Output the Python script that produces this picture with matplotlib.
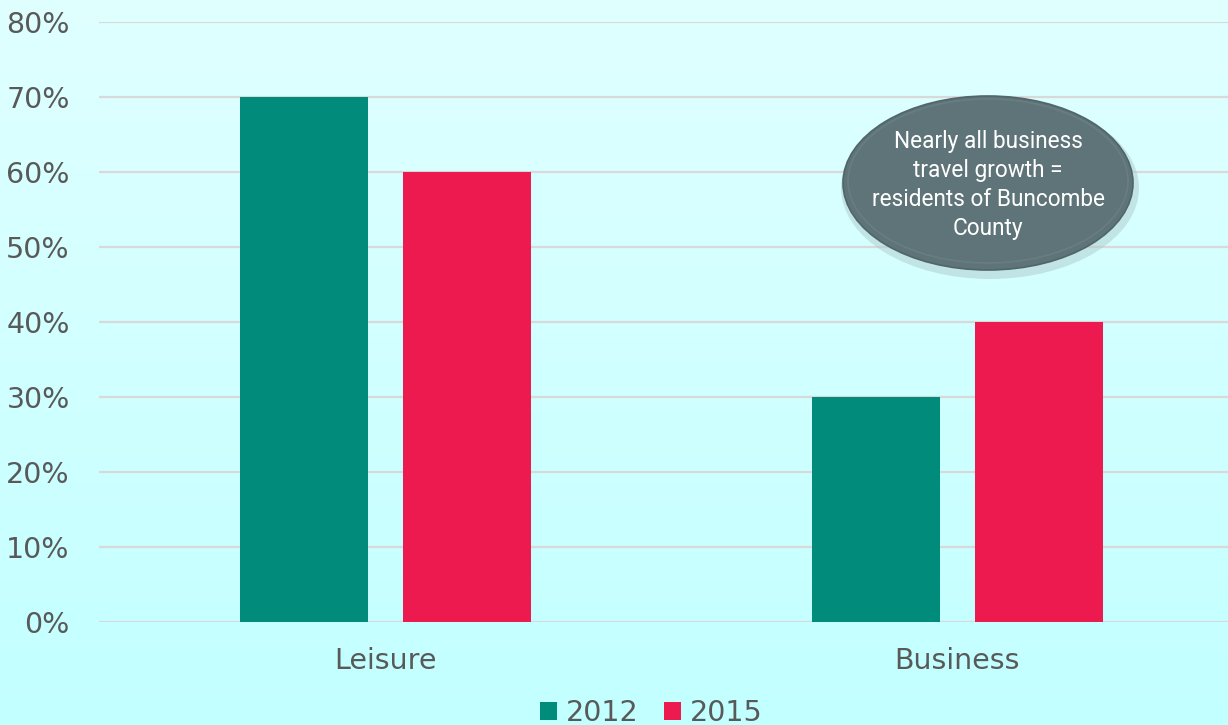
import matplotlib
matplotlib.use("Agg")
import matplotlib.pyplot as plt
import numpy as np
from matplotlib.patches import Ellipse
from matplotlib.colors import LinearSegmentedColormap

categories = ["Leisure", "Business"]
series_names = ["2012", "2015"]
values_2012 = [70, 30]
values_2015 = [60, 40]
yticks = [0, 10, 20, 30, 40, 50, 60, 70, 80]
ytick_labels = ["0%", "10%", "20%", "30%", "40%", "50%", "60%", "70%", "80%"]
note = "Nearly all business\ntravel growth =\nresidents of Buncombe\nCounty"

colors = ["#008B7A", "#ED1A4F"]
text_color = "#595959"
plt.rcParams["font.family"] = ["DejaVu Sans"]

W, H = 1228, 725
fig = plt.figure(figsize=(W / 100, H / 100), dpi=100)

# background gradient
bg = fig.add_axes([0, 0, 1, 1], zorder=-10)
grad = np.linspace(0, 1, 256).reshape(-1, 1)
cmap = LinearSegmentedColormap.from_list("bg", ["#E0FFFF", "#C2FFFF"])
bg.imshow(grad, aspect="auto", cmap=cmap, extent=[0, 1, 0, 1], origin="upper")
bg.axis("off")

# main axes: left 99px, right 1228px, y 0% at 622px, 80% at 22px
left, right = 99, 1228
top, bottom = 22, 622
ax = fig.add_axes([left / W, 1 - bottom / H, (right - left) / W, (bottom - top) / H])
ax.set_facecolor("none")

x = np.arange(len(categories))
bw = 0.224
off = 0.1425
ax.bar(x - off, values_2012, bw, color=colors[0], label=series_names[0], zorder=3)
ax.bar(x + off, values_2015, bw, color=colors[1], label=series_names[1], zorder=3)

ax.set_ylim(0, 80)
ax.set_xlim(-0.5 - 1 / 572, -0.5 + 1129 / 572)
ax.set_yticks(yticks)
ax.set_yticklabels(ytick_labels)
ax.set_xticks(x)
ax.set_xticklabels(categories)
ax.tick_params(axis="y", length=0, pad=21, labelsize=20.5, labelcolor=text_color)
ax.tick_params(axis="x", length=0, pad=18, labelsize=20.5, labelcolor=text_color)
for s in ax.spines.values():
    s.set_visible(False)
ax.yaxis.grid(True, color="#D9D9D9", linewidth=1.6, zorder=0)
ax.set_axisbelow(True)

# callout ellipse (pixel-based figure coordinates)
cx, cy, ew, eh = 988, 183, 290, 174
fig.patches.append(Ellipse(((cx + 2) / W, 1 - (cy + 5) / H), (ew + 8) / W, (eh + 8) / H,
                           transform=fig.transFigure, facecolor="#A9C4C6", alpha=0.45,
                           edgecolor="none", zorder=4))
fig.patches.append(Ellipse((cx / W, 1 - cy / H), ew / W, eh / H,
                           transform=fig.transFigure, facecolor="#5E7479",
                           edgecolor="#50656A", linewidth=1.2, zorder=5))
fig.patches.append(Ellipse((cx / W, 1 - (cy - 2) / H), (ew - 10) / W, (eh - 10) / H,
                           transform=fig.transFigure, facecolor="none",
                           edgecolor="#7A9094", linewidth=1.2, alpha=0.35, zorder=5))
fig.text(cx / W, 1 - 185 / H, note, ha="center", va="center", color="white",
         fontsize=16.3, linespacing=1.32, zorder=6, family=["Roboto", "DejaVu Sans"])

handles, labels = ax.get_legend_handles_labels()
leg = fig.legend(handles, labels, loc="center", bbox_to_anchor=(651 / W, 1 - 713 / H),
                 ncol=2, frameon=False, fontsize=20.5, handlelength=0.6, handleheight=0.6,
                 handletextpad=0.3, columnspacing=0.9, labelcolor=text_color,
                 borderpad=0)

fig.savefig("out.png", dpi=100)
